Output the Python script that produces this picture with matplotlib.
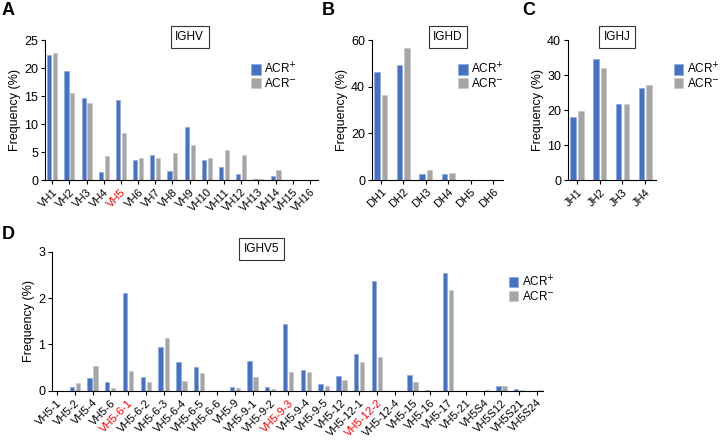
import numpy as np
import matplotlib.pyplot as plt

plt.rcParams['font.family'] = ['Liberation Sans', 'DejaVu Sans']

# IGHV
v_labels = ['VH1', 'VH2', 'VH3', 'VH4', 'VH5', 'VH6', 'VH7', 'VH8', 'VH9', 'VH10',
            'VH11', 'VH12', 'VH13', 'VH14', 'VH15', 'VH16']
v_pos = [22.4, 19.5, 14.7, 1.5, 14.3, 3.6, 4.5, 1.6, 9.4, 3.6, 2.4, 1.1, 0.1, 0.8, 0.05, 0]
v_neg = [22.6, 15.6, 13.8, 4.3, 8.4, 4.0, 3.9, 4.9, 6.3, 4.0, 5.3, 4.4, 0.2, 1.7, 0, 0]

# IGHD
d_labels = ['DH1', 'DH2', 'DH3', 'DH4', 'DH5', 'DH6']
d_pos = [46.1, 49.3, 2.4, 2.5, 0, 0]
d_neg = [36.4, 56.7, 4.4, 2.9, 0, 0]

# IGHJ
j_labels = ['JH1', 'JH2', 'JH3', 'JH4']
j_pos = [17.9, 34.5, 21.6, 26.4]
j_neg = [19.7, 31.9, 21.6, 27.1]

# IGHV5
v5_labels = ['VH5-1', 'VH5-2', 'VH5-4', 'VH5-6', 'VH5-6-1', 'VH5-6-2', 'VH5-6-3',
             'VH5-6-4', 'VH5-6-5', 'VH5-6-6', 'VH5-9', 'VH5-9-1', 'VH5-9-2', 'VH5-9-3',
             'VH5-9-4', 'VH5-9-5', 'VH5-12', 'VH5-12-1', 'VH5-12-2', 'VH5-12-4',
             'VH5-15', 'VH5-16', 'VH5-17', 'VH5-21', 'VH5S4', 'VH5S12', 'VH5S21', 'VH5S24']
v5_pos = [0, 0.09, 0.27, 0.19, 2.10, 0.29, 0.94, 0.61, 0.52, 0, 0.08, 0.64, 0.09, 1.45,
          0.44, 0.14, 0.32, 0.79, 2.37, 0, 0.33, 0.01, 2.55, 0, 0, 0.11, 0.03, 0]
v5_neg = [0, 0.16, 0.54, 0.06, 0.42, 0.18, 1.13, 0.20, 0.38, 0, 0.06, 0.29, 0.03, 0.40,
          0.40, 0.11, 0.24, 0.61, 0.72, 0, 0.18, 0, 2.17, 0, 0.01, 0.10, 0.01, 0.01]

red_labels = ['VH5', 'VH5-6-1', 'VH5-9-3', 'VH5-12-2']

blue = '#4472c4'
grey = '#a5a5a5'

fig = plt.figure(figsize=(7.22, 4.4), dpi=100)


def panel(rect, labels, pos, neg, ymax, ystep, xlim, title, title_x, leg_loc, letter, letter_xy):
    ax = fig.add_axes(rect)
    x = np.arange(len(labels))
    ax.bar(x - 0.17, pos, 0.24, color=blue, edgecolor='#8fa9dc', linewidth=0.5, label='ACR$^{+}$')
    ax.bar(x + 0.17, neg, 0.24, color=grey, edgecolor='#c8c8c8', linewidth=0.5, label='ACR$^{-}$')
    ax.set_xlim(*xlim)
    ax.set_ylim(0, ymax)
    ax.set_yticks(np.arange(0, ymax + 0.01, ystep))
    ax.set_xticks(x)
    ax.set_xticklabels(labels, rotation=45, ha='right', rotation_mode='anchor', fontsize=8)
    for t in ax.get_xticklabels():
        if t.get_text() in red_labels:
            t.set_color('red')
    ax.tick_params(axis='y', labelsize=9, length=3, width=0.8, pad=2)
    ax.tick_params(axis='x', length=3, width=0.8, pad=2)
    for s in ['top', 'right']:
        ax.spines[s].set_visible(False)
    for s in ['left', 'bottom']:
        ax.spines[s].set_linewidth(0.8)
    ax.set_ylabel('Frequency (%)', fontsize=9, labelpad=2)
    ax.text(title_x, 1.02, title, transform=ax.transAxes, ha='center', va='center', fontsize=8.5,
            bbox=dict(boxstyle='square,pad=0.4', fc='white', ec='#333333', lw=0.8))
    ax.legend(loc='upper left', bbox_to_anchor=leg_loc, frameon=False, fontsize=8.5,
              handlelength=0.8, handleheight=1.0, handletextpad=0.3, labelspacing=0.05,
              borderpad=0, borderaxespad=0)
    fig.text(letter_xy[0], letter_xy[1], letter, fontsize=13, fontweight='bold', va='top')
    return ax


W, H = 722, 440
panel([45 / W, 1 - 180 / H, 273 / W, 140 / H], v_labels, v_pos, v_neg, 25, 5, (-0.42, 15.47),
      'IGHV', 0.53, (0.755, 0.85), 'A', (2 / W, 1 - 2 / H))
panel([372 / W, 1 - 180 / H, 131 / W, 140 / H], d_labels, d_pos, d_neg, 60, 20, (-0.4, 5.45),
      'IGHD', 0.58, (0.66, 0.85), 'B', (322 / W, 1 - 2 / H))
panel([568 / W, 1 - 180 / H, 88 / W, 140 / H], j_labels, j_pos, j_neg, 40, 10, (-0.4, 3.48),
      'IGHJ', 0.56, (1.2, 0.85), 'C', (522 / W, 1 - 2 / H))
panel([52 / W, 1 - 390.7 / H, 491 / W, 139 / H], v5_labels, v5_pos, v5_neg, 3, 1, (-0.28, 27.34),
      'IGHV5', 0.427, (0.93, 0.84), 'D', (2 / W, 1 - 226 / H))

fig.savefig('out.png', dpi=100)
